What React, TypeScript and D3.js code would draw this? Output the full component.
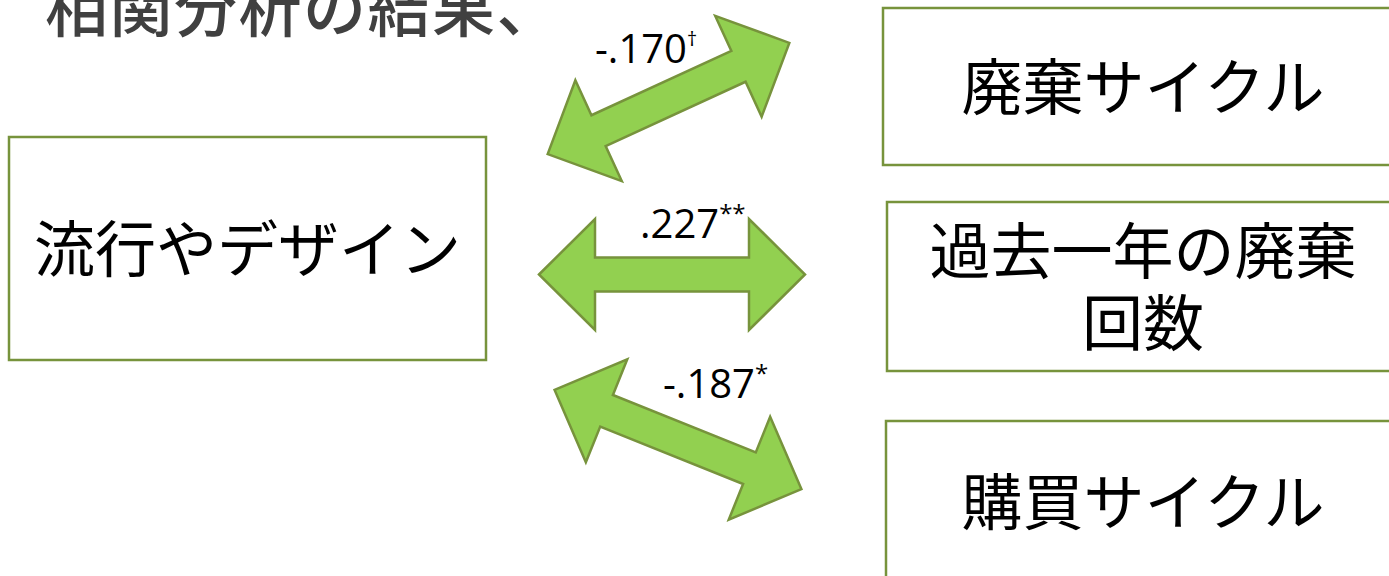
import React from "react";
import * as d3 from "d3";

// ---- data ----
const titleText = "相関分析の結果、";
const predictorLabel = ["流行やデザイン"];
const outcomeLabels: string[][] = [["廃棄サイクル"], ["過去一年の廃棄", "回数"], ["購買サイクル"]];
const correlations = [-0.17, 0.227, -0.187];
const significance = ["†", "**", "*"];

// ---- layout ----
const W = 1389;
const H = 576;
const green = "#77933C";
const arrowFill = "#92D050";
const cjk = "'Noto Sans CJK JP', 'Noto Sans', sans-serif";
const latin = "'Open Sans', 'Liberation Sans', sans-serif";
const boxFont = 61;

const leftBox = { x0: 9, x1: 486, y0: 137, y1: 360 };
const rightBoxes = [
  { x0: 883, x1: 1400, y0: 8, y1: 165 },
  { x0: 887, x1: 1400, y0: 202, y1: 371 },
  { x0: 886, x1: 1400, y0: 421, y1: 582 },
];
const textCenterX = 1143;
const arrows = [
  { cx: 668.5, cy: 98.5, angle: -24.7, lx: 595, ly: 63, supDy: -17, supSize: 20 },
  { cx: 672, cy: 274.5, angle: 0, lx: 640, ly: 238, supDy: -16, supSize: 24 },
  { cx: 678, cy: 439.5, angle: 21.9, lx: 663, ly: 398, supDy: -16, supSize: 24 },
];
const halfLen = 133;
const headLen = 56;
const headHalf = 55.5;
const shaftHalf = 17;

const fmt = (v: number) => {
  const s = d3.format(".3f")(Math.abs(v)).replace(/^0/, "");
  return (v < 0 ? "-" : "") + s;
};

const arrowPts: [number, number][] = [
  [-halfLen, 0],
  [-halfLen + headLen, -headHalf],
  [-halfLen + headLen, -shaftHalf],
  [halfLen - headLen, -shaftHalf],
  [halfLen - headLen, -headHalf],
  [halfLen, 0],
  [halfLen - headLen, headHalf],
  [halfLen - headLen, shaftHalf],
  [-halfLen + headLen, shaftHalf],
  [-halfLen + headLen, headHalf],
];
const arrowPath = (d3.line()(arrowPts) || "") + "Z";

function BoxText({ lines, cx, cy }: { lines: string[]; cx: number; cy: number }) {
  const lh = 72;
  const n = lines.length;
  return (
    <text fontFamily={cjk} fontSize={boxFont} fill="#000" textAnchor="middle">
      {lines.map((l, i) => (
        <tspan key={i} x={cx} y={cy + (i - (n - 1) / 2) * lh + 0.38 * boxFont}>
          {l}
        </tspan>
      ))}
    </text>
  );
}

export default function App() {
  return (
    <svg
      width={W}
      height={H}
      viewBox={`0 0 ${W} ${H}`}
      style={{ position: "fixed", left: 0, top: 0, background: "#fff" }}
    >
      <rect x={0} y={0} width={W} height={H} fill="#fff" />
      <text x={45} y={31} fontFamily={cjk} fontSize={63} fontWeight={500} letterSpacing={1.5} fill="#404040">
        {titleText}
      </text>

      <rect
        x={leftBox.x0}
        y={leftBox.y0}
        width={leftBox.x1 - leftBox.x0}
        height={leftBox.y1 - leftBox.y0}
        fill="#fff"
        stroke={green}
        strokeWidth={2.5}
      />
      <BoxText lines={predictorLabel} cx={(leftBox.x0 + leftBox.x1) / 2} cy={(leftBox.y0 + leftBox.y1) / 2} />

      {rightBoxes.map((b, i) => (
        <g key={i}>
          <rect x={b.x0} y={b.y0} width={b.x1 - b.x0} height={b.y1 - b.y0} fill="#fff" stroke={green} strokeWidth={2.5} />
          <BoxText lines={outcomeLabels[i]} cx={textCenterX} cy={(b.y0 + b.y1) / 2} />
        </g>
      ))}

      {arrows.map((a, i) => (
        <g key={i}>
          <path
            d={arrowPath}
            transform={`translate(${a.cx},${a.cy}) rotate(${a.angle})`}
            fill={arrowFill}
            stroke={green}
            strokeWidth={2.5}
            strokeLinejoin="miter"
          />
          <text x={a.lx} y={a.ly} fontFamily={latin} fontSize={40} fill="#000">
            {fmt(correlations[i])}
            <tspan fontSize={a.supSize} dy={a.supDy}>
              {significance[i]}
            </tspan>
          </text>
        </g>
      ))}
    </svg>
  );
}
